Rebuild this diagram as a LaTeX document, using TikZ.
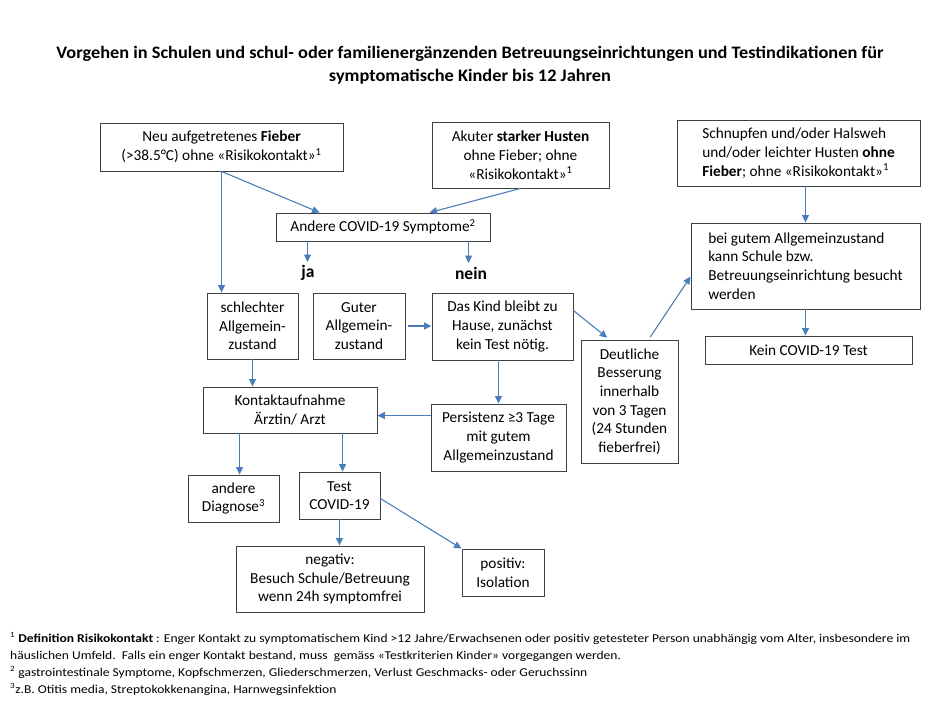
\documentclass[tikz,border=0pt]{standalone}
\usepackage{fontspec}
\setmainfont{Carlito}
\usetikzlibrary{arrows.meta}
\definecolor{arrowblue}{HTML}{4A7EBB}
\definecolor{boxline}{HTML}{404040}
\newcommand\fnfont{\fontsize{12}{14}\selectfont}
\newcommand\titlefont{\fontsize{17.5}{23}\selectfont\bfseries}
\newsavebox\fnboxA
\newsavebox\titleboxA
\tikzset{
  box/.style={draw=boxline, line width=0.9pt, inner sep=0pt, align=center,
    font=\fontsize{15.3}{18.7}\selectfont, text=black},
  arr/.style={draw=arrowblue, line width=1.1pt, -{Triangle[length=7.5pt,width=7pt]}},
  lbl/.style={font=\fontsize{17.5}{21}\selectfont\bfseries, inner sep=0pt},
  fn/.style={anchor=base west, inner sep=0pt, font=\fnfont},
}
\begin{document}
\sbox\titleboxA{\titlefont Vorgehen in Schulen und schul- oder familienergänzenden Betreuungseinrichtungen und Testindikationen für}%
\sbox\fnboxA{\fnfont \textsuperscript{1} \textbf{Definition Risikokontakt} : Enger Kontakt zu symptomatischem Kind >12 Jahre/Erwachsenen oder positiv getesteter Person unabhängig vom Alter, insbesondere im}%
\edef\titlewd{\the\wd\titleboxA}%
\edef\fnwd{\the\wd\fnboxA}%
\pgfmathsetmacro{\titlescale}{827/\titlewd}%
\pgfmathsetmacro{\fnscale}{900/\fnwd}%
\begin{tikzpicture}[x=1pt,y=-1pt]
\useasboundingbox[fill=white] (0,0) rectangle (940,705);

% title
\node[font=\titlefont, align=center, inner sep=0pt] (title) at (470,65)
  {\scalebox{\titlescale}[1]{Vorgehen in Schulen und schul- oder familienergänzenden Betreuungseinrichtungen und Testindikationen für}\\
   \scalebox{\titlescale}[1]{symptomatische Kinder bis 12 Jahren}};

% boxes
\node[box, minimum width=243pt, minimum height=48pt] (fieber) at (221.5,147)
  {Neu aufgetretenes \textbf{Fieber}\\(>38.5°C) ohne «Risikokontakt»\textsuperscript{1}};
\node[box, minimum width=177pt, minimum height=66pt] (akuter) at (520.5,155)
  {Akuter \textbf{starker Husten}\\ohne Fieber; ohne\\«Risikokontakt»\textsuperscript{1}};
\node[box, align=left, minimum width=243pt, minimum height=66pt] (schnupfen) at (798.5,153)
  {Schnupfen und/oder Halsweh\\und/oder leichter Husten \textbf{ohne}\\\textbf{Fieber}; ohne «Risikokontakt»\textsuperscript{1}};
\node[box, minimum width=214pt, minimum height=28pt] (andere) at (383,227)
  {Andere COVID-19 Symptome\textsuperscript{2}};
\node[box, align=left, minimum width=229pt, minimum height=86pt] (begutem) at (805.5,266)
  {bei gutem Allgemeinzustand\\kann Schule bzw.\\Betreuungseinrichtung besucht\\werden};
\node[box, minimum width=207pt, minimum height=28pt] (kein) at (808.5,350)
  {Kein COVID-19 Test};
\node[box, minimum width=91pt, minimum height=66pt] (schlechter) at (252.5,326)
  {schlechter\\Allgemein-\\zustand};
\node[box, minimum width=92pt, minimum height=66pt] (guter) at (359,326)
  {Guter\\Allgemein-\\zustand};
\node[box, minimum width=141pt, minimum height=67pt] (daskind) at (502.5,326.5)
  {Das Kind bleibt zu\\Hause, zunächst\\kein Test nötig.};
\node[box, minimum width=97pt, minimum height=123pt] (deutliche) at (629.5,401.5)
  {Deutliche\\Besserung\\innerhalb\\von 3 Tagen\\(24 Stunden\\fieberfrei)};
\node[box, minimum width=174pt, minimum height=46pt] (kontakt) at (290,410)
  {Kontaktaufnahme\\Ärztin/ Arzt};
\node[box, minimum width=135pt, minimum height=67pt] (persistenz) at (498.5,437.5)
  {Persistenz ≥3 Tage\\mit gutem\\Allgemeinzustand};
\node[box, minimum width=91pt, minimum height=47pt] (anderediag) at (233.5,498.5)
  {andere\\Diagnose\textsuperscript{3}};
\node[box, minimum width=81pt, minimum height=47pt] (test) at (339.5,495.5)
  {Test\\COVID-19};
\node[box, minimum width=188pt, minimum height=66pt] (negativ) at (330,579)
  {negativ:\\Besuch Schule/Betreuung\\wenn 24h symptomfrei};
\node[box, minimum width=82pt, minimum height=47pt] (positiv) at (503,572.5)
  {positiv:\\Isolation};

% labels
\node[lbl, anchor=north] (ja) at (308,265) {ja};
\node[lbl, anchor=north] (nein) at (471,267) {nein};

% connectors
\draw[arr] (fieber.south) -- (fieber.south |- schlechter.north);
\draw[arr] (fieber.south) -- ([xshift=44pt]andere.north west);
\draw[arr] (akuter.south) -- ([xshift=154pt]andere.north west);
\draw[arr, shorten >=3pt] ([xshift=32pt]andere.south west) -- ([xshift=32pt]andere.south west |- ja.north);
\draw[arr, shorten >=4pt] ([xshift=193pt]andere.south west) -- ([xshift=193pt]andere.south west |- nein.north);
\draw[arr] (begutem.north |- schnupfen.south) -- (begutem.north);
\draw[arr] (begutem.south) -- (begutem.south |- kein.north);
\draw[arr, shorten <=3pt] (guter.east) -- (guter.east -| daskind.west);
\draw[arr, shorten >=3pt] ([yshift=-18pt]daskind.north east) -- ([xshift=29pt]deutliche.north west);
\draw[arr, shorten <=3pt] ([xshift=68pt]deutliche.north west) -- ([yshift=-54pt]begutem.north west);
\draw[arr] (schlechter.south) -- (schlechter.south |- kontakt.north);
\draw[arr] (persistenz.north |- daskind.south) -- (persistenz.north);
\coordinate (p1) at ([yshift=-12pt]persistenz.north west);
\draw[arr] (p1) -- (p1 -| kontakt.east);
\draw[arr] ([xshift=37pt]kontakt.south west) -- ([xshift=37pt]kontakt.south west |- anderediag.north);
\draw[arr] ([xshift=140pt]kontakt.south west) -- ([xshift=140pt]kontakt.south west |- test.north);
\draw[arr] (test.south) -- (test.south |- negativ.north);
\draw[arr] ([yshift=-27pt]test.north east) -- (positiv.north west);

% footnotes
\node[fn] (fn1) at (10,642) {\scalebox{\fnscale}[1]{\textsuperscript{1} \textbf{Definition Risikokontakt} : Enger Kontakt zu symptomatischem Kind >12 Jahre/Erwachsenen oder positiv getesteter Person unabhängig vom Alter, insbesondere im}};
\node[fn] (fn2) at (10,659) {\scalebox{\fnscale}[1]{häuslichen Umfeld.\ \ Falls ein enger Kontakt bestand, muss\ \ gemäss «Testkriterien Kinder» vorgegangen werden.}};
\node[fn] (fn3) at (10,676) {\scalebox{\fnscale}[1]{\textsuperscript{2} gastrointestinale Symptome, Kopfschmerzen, Gliederschmerzen, Verlust Geschmacks- oder Geruchssinn}};
\node[fn] (fn4) at (10,693) {\scalebox{\fnscale}[1]{\textsuperscript{3}z.B. Otitis media, Streptokokkenangina, Harnwegsinfektion}};
\end{tikzpicture}
\end{document}
